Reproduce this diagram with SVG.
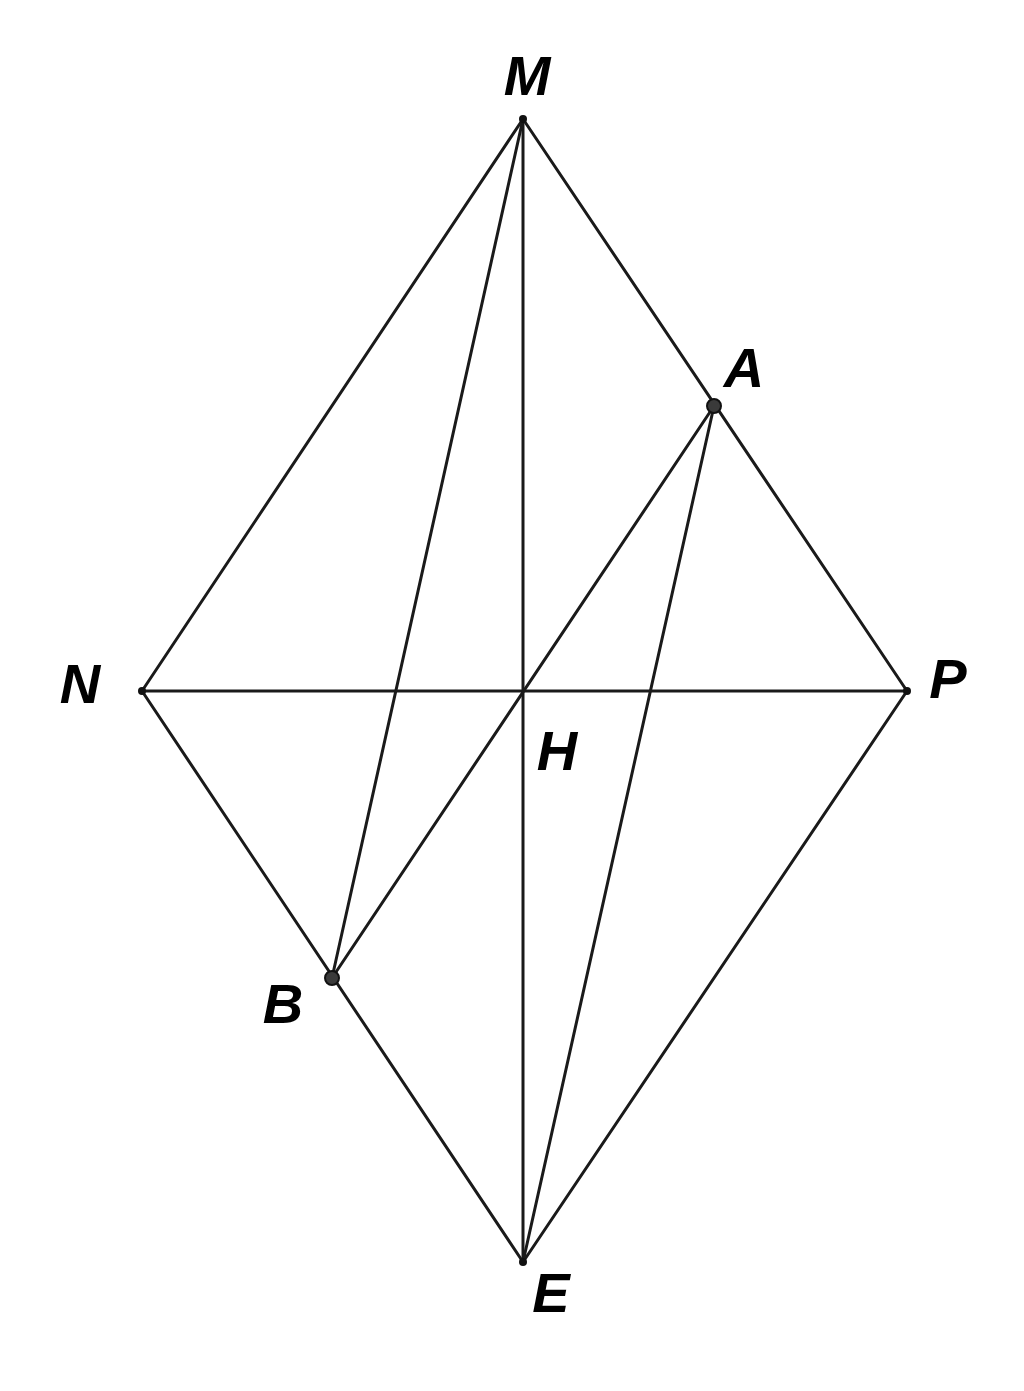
<svg xmlns="http://www.w3.org/2000/svg" width="1024" height="1391" viewBox="0 0 1024 1391">
<style>
.l{stroke:#1a1a1a;stroke-width:3;fill:none;stroke-linecap:round}
.t{font-family:"Liberation Sans",Arial,sans-serif;font-weight:bold;font-style:italic;font-size:56px;fill:#000}
.d{fill:#111}
.bd{fill:#3a3a3a;stroke:#111;stroke-width:2}
</style>
<rect width="1024" height="1391" fill="#fff"/>
<g id="connectors">
<line class="l" x1="523" y1="119" x2="142" y2="691"/>
<line class="l" x1="523" y1="119" x2="907" y2="691"/>
<line class="l" x1="142" y1="691" x2="523" y2="1262"/>
<line class="l" x1="907" y1="691" x2="523" y2="1262"/>
<line class="l" x1="523" y1="119" x2="523" y2="1262"/>
<line class="l" x1="142" y1="691" x2="907" y2="691"/>
<line class="l" x1="523" y1="119" x2="332" y2="978"/>
<line class="l" x1="714" y1="406" x2="332" y2="978"/>
<line class="l" x1="714" y1="406" x2="523" y2="1262"/>
</g>
<g id="M"><circle class="d" cx="523" cy="119" r="4"/><text class="t" x="527" y="95" text-anchor="middle">M</text></g>
<g id="N"><circle class="d" cx="142" cy="691" r="4"/><text class="t" x="80" y="703" text-anchor="middle">N</text></g>
<g id="P"><circle class="d" cx="907" cy="691" r="4"/><text class="t" x="948" y="698" text-anchor="middle">P</text></g>
<g id="E"><circle class="d" cx="523" cy="1262" r="4"/><text class="t" x="551" y="1312" text-anchor="middle">E</text></g>
<g id="H"><text class="t" x="557" y="770" text-anchor="middle">H</text></g>
<g id="A"><circle class="bd" cx="714" cy="406" r="7"/><text class="t" x="744" y="387" text-anchor="middle">A</text></g>
<g id="B"><circle class="bd" cx="332" cy="978" r="7"/><text class="t" x="283" y="1023" text-anchor="middle">B</text></g>
</svg>
